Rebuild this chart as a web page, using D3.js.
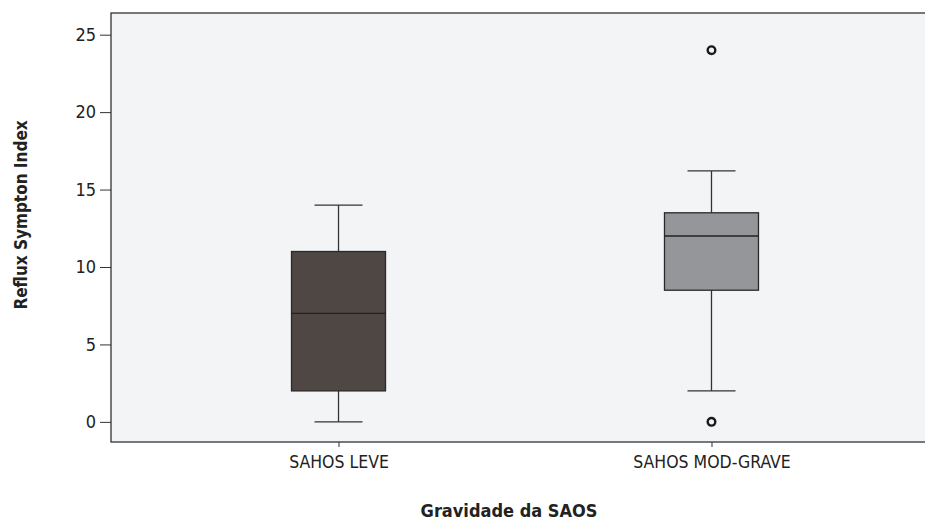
<!DOCTYPE html>
<html>
<head>
<meta charset="utf-8">
<script src="https://cdn.jsdelivr.net/npm/d3@7"></script>
<style>
  body { margin: 0; background: #fff; }
  svg { display: block; }
  .tick text { font-family: "DejaVu Sans Condensed", "DejaVu Sans", sans-serif; fill: #222; }
</style>
</head>
<body>
<svg id="chart" width="925" height="523"></svg>
<script>
// box plot data
var categories = ["SAHOS LEVE", "SAHOS MOD-GRAVE"];
var whiskerLow = [0, 2];
var q1 = [2, 8.5];
var median = [7, 12];
var q3 = [11, 13.5];
var whiskerHigh = [14, 16.2];
var outliers = [[], [24, 0]];
var fills = ["#4f4744", "#959699"];
var yTicks = [0, 5, 10, 15, 20, 25];

var margin = { left: 111, top: 13, right: -14, bottom: 81 };
var width = 925 - margin.left - margin.right;
var height = 523 - margin.top - margin.bottom;

var svg = d3.select("#chart");
var g = svg.append("g").attr("transform", `translate(${margin.left},${margin.top})`);

var y = d3.scaleLinear().domain([-1.3, 26.4]).range([height, 0]);
var x = d3.scalePoint().domain(categories).range([0, width]).padding(0.61);

// plot background + frame
g.append("rect")
  .attr("width", width)
  .attr("height", height)
  .attr("fill", "#f3f4f6")
  .attr("stroke", "#333")
  .attr("stroke-width", 1.3);

// y axis
var yAxis = g.append("g")
  .call(d3.axisLeft(y).tickValues(yTicks).tickSize(11).tickPadding(4));
yAxis.select(".domain").remove();
yAxis.selectAll(".tick line").attr("stroke", "#333");
yAxis.selectAll(".tick text").style("font-size", "18px");

// x axis
var xAxis = g.append("g")
  .attr("transform", `translate(0,${height})`)
  .call(d3.axisBottom(x).tickSize(5).tickPadding(9));
xAxis.select(".domain").remove();
xAxis.selectAll(".tick line").attr("stroke", "#333");
xAxis.selectAll(".tick text").style("font-size", "17.5px");

var boxW = 94, capW = 48;

var boxes = g.selectAll(".box")
  .data(categories)
  .enter()
  .append("g")
  .attr("class", "box")
  .attr("transform", d => `translate(${x(d)},0)`);

// whiskers
boxes.append("line")
  .attr("x1", 0).attr("x2", 0)
  .attr("y1", (d, i) => y(whiskerLow[i]))
  .attr("y2", (d, i) => y(whiskerHigh[i]))
  .attr("stroke", "#333").attr("stroke-width", 1.3);
boxes.append("line")
  .attr("x1", -capW / 2).attr("x2", capW / 2)
  .attr("y1", (d, i) => y(whiskerLow[i]))
  .attr("y2", (d, i) => y(whiskerLow[i]))
  .attr("stroke", "#333").attr("stroke-width", 1.3);
boxes.append("line")
  .attr("x1", -capW / 2).attr("x2", capW / 2)
  .attr("y1", (d, i) => y(whiskerHigh[i]))
  .attr("y2", (d, i) => y(whiskerHigh[i]))
  .attr("stroke", "#333").attr("stroke-width", 1.3);

// box
boxes.append("rect")
  .attr("x", -boxW / 2)
  .attr("width", boxW)
  .attr("y", (d, i) => y(q3[i]))
  .attr("height", (d, i) => y(q1[i]) - y(q3[i]))
  .attr("fill", (d, i) => fills[i])
  .attr("stroke", "#2a2a2a")
  .attr("stroke-width", 1.3);

// median
boxes.append("line")
  .attr("x1", -boxW / 2).attr("x2", boxW / 2)
  .attr("y1", (d, i) => y(median[i]))
  .attr("y2", (d, i) => y(median[i]))
  .attr("stroke", "#222").attr("stroke-width", 1.3);

// outliers
boxes.each(function (d, i) {
  d3.select(this).selectAll("circle")
    .data(outliers[i])
    .enter()
    .append("circle")
    .attr("cx", 0)
    .attr("cy", v => y(v))
    .attr("r", 3.8)
    .attr("fill", "#f3f4f6")
    .attr("stroke", "#1a1a1a")
    .attr("stroke-width", 2.4);
});

// axis titles
svg.append("text")
  .attr("transform", "translate(27,215) rotate(-90)")
  .attr("text-anchor", "middle")
  .style("font-family", "'DejaVu Sans Condensed', 'DejaVu Sans', sans-serif")
  .style("font-weight", "bold")
  .style("font-size", "17px")
  .attr("fill", "#222")
  .text("Reflux Sympton Index");

svg.append("text")
  .attr("x", 509)
  .attr("y", 517)
  .attr("text-anchor", "middle")
  .style("font-family", "'DejaVu Sans Condensed', 'DejaVu Sans', sans-serif")
  .style("font-weight", "bold")
  .style("font-size", "18px")
  .attr("fill", "#222")
  .text("Gravidade da SAOS");
</script>
</body>
</html>
